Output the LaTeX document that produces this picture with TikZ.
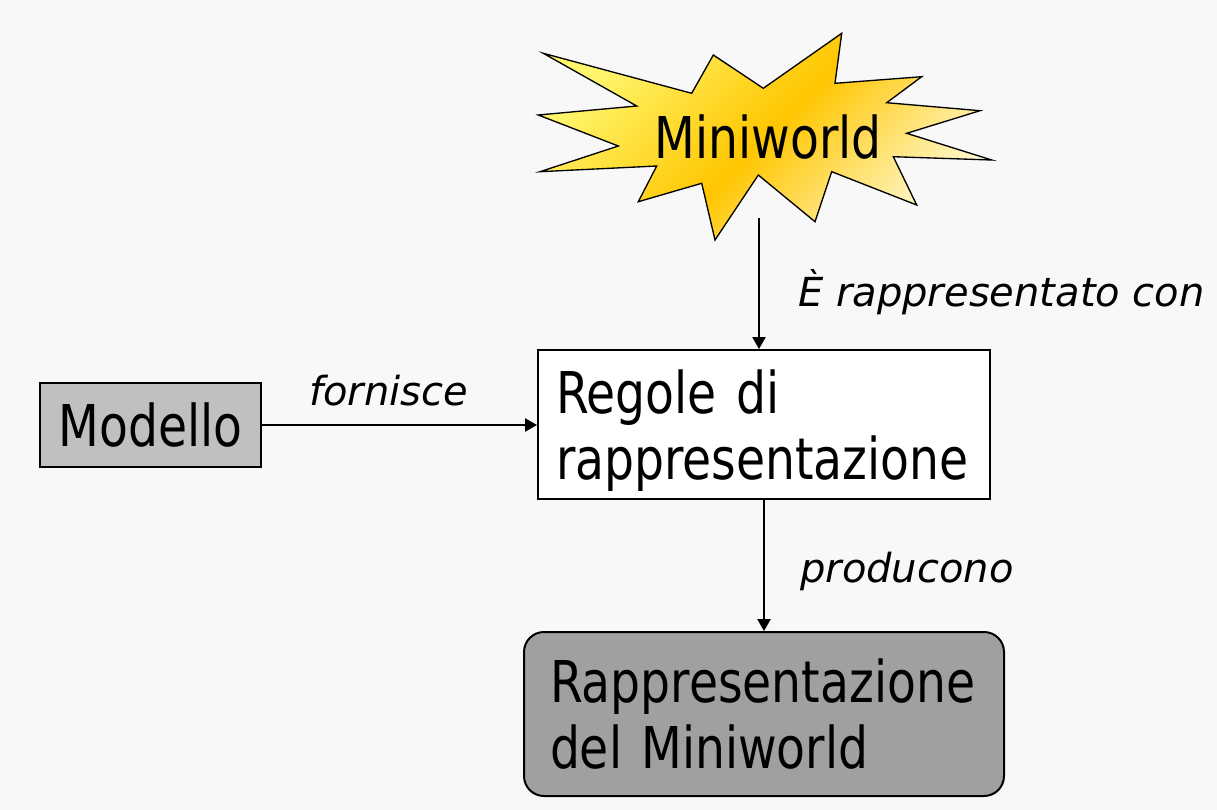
\documentclass[tikz,border=0pt]{standalone}
\usepackage{fontspec}
\setmainfont{DejaVu Sans}
\newfontfamily\boxfont[FakeStretch=0.82]{DejaVu Sans}
\usetikzlibrary{arrows.meta}

\newcommand{\px}{0.75pt}
\definecolor{paper}{RGB}{248,248,248}
\definecolor{silverbox}{RGB}{192,192,192}
\definecolor{darkbox}{RGB}{160,160,160}
\definecolor{starlight}{RGB}{255,246,110}
\definecolor{stargold}{RGB}{255,198,0}
\definecolor{starcream}{RGB}{255,248,205}

\tikzset{
  box/.style={draw=black, line width=1.5pt, inner sep=0pt,
    font=\boxfont\fontsize{43.2pt}{49.5pt}\selectfont},
  lbl/.style={anchor=base west, inner sep=0pt,
    font=\itshape\fontsize{30pt}{36pt}\selectfont},
  conn/.style={line width=1.1pt, -{Triangle[length=9pt,width=10pt]}}
}

\begin{document}
\begin{tikzpicture}[x=0.75pt, y=-0.75pt]

% Background
\fill[paper] (0,0) rectangle (1217,810);
\useasboundingbox (0,0) rectangle (1217,810);

% Star
\shade[draw=black, line width=1pt, top color=starlight, bottom color=starcream,
  middle color=stargold, shading angle=45]
  (543.3,53.3) -- (691.7,93.3) -- (713.3,55) -- (763.3,88.3) -- (841.7,33.3)
  -- (835,83.3) -- (921.7,76.7) -- (886.7,102.7) -- (980,110.7) -- (906.7,133.3)
  -- (991.7,160) -- (893.3,156.7) -- (916.7,205) -- (831.7,171.7) -- (815,221.7)
  -- (758.3,175) -- (715,240) -- (701.7,183.3) -- (638.3,201.7) -- (656.7,166)
  -- (540,171.7) -- (618.3,146) -- (538.3,115) -- (636.7,106) -- cycle;
\node[font=\boxfont\fontsize{43.2pt}{49.5pt}\selectfont, anchor=base, inner sep=0pt]
  (miniworld) at (768,158) {Miniworld};
\coordinate (starfoot) at (759,218);

% Boxes
\node[box, fill=silverbox, minimum width=221*\px, minimum height=84*\px]
  (modello) at (150.5,425) {Modello};
\node[box, fill=white, minimum width=452*\px, minimum height=149*\px,
  text width=416*\px, align=left, text depth=66*\px]
  (regole) at (764,424.5) {Regole di\\rappresentazione};
\node[box, fill=darkbox, rounded corners=15pt, minimum width=480*\px,
  minimum height=164*\px, text width=428*\px, align=left, text depth=66*\px]
  (rappr) at (764,714) {Rappresentazione\\del Miniworld};

% Connectors
\draw[conn] (starfoot) -- (starfoot |- regole.north);
\draw[conn] (modello.east) -- (modello.east -| regole.west);
\draw[conn] (regole.south) -- (rappr.north);

% Labels
\node[lbl] (rappresentato) at (798,306.5) {È rappresentato con};
\node[lbl] (fornisce) at (309,405) {fornisce};
\node[lbl] (producono) at (800,582) {producono};

\end{tikzpicture}
\end{document}
